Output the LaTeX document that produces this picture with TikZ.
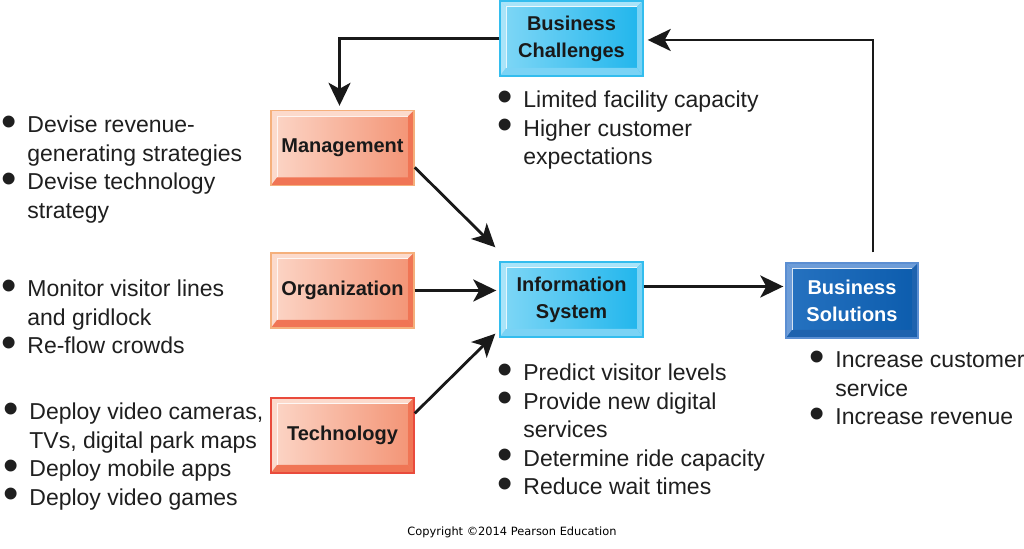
\documentclass[tikz,border=0pt]{standalone}
\usepackage{fontspec}
\setmainfont{Liberation Sans}
\newfontfamily\copyfont{DejaVu Sans}
\usepackage{graphicx}
\usetikzlibrary{arrows.meta,positioning,calc}
\tikzset{
  >=Stealth,
  every node/.append style={font=\fontsize{11.5}{14.25}\selectfont},
}
\tikzset{
  bevelbox/.style n args={5}{draw=#1, line width=0.7pt, left color=#2, right color=#3,
    minimum width=71.5pt, minimum height=37.5pt, inner sep=0pt, align=center,
    font=\fontsize{10}{13.5}\selectfont\bfseries, text=black!90,
    path picture={
      \coordinate (pnw) at (path picture bounding box.north west);
      \coordinate (pne) at (path picture bounding box.north east);
      \coordinate (psw) at (path picture bounding box.south west);
      \coordinate (pse) at (path picture bounding box.south east);
      \fill[#4] (pnw) -- (pne) -- ([shift={(-3pt,-3pt)}]pne) -- ([shift={(3pt,-3pt)}]pnw) -- cycle;
      \fill[#4] (pnw) -- ([shift={(3pt,-3pt)}]pnw) -- ([shift={(3pt,4pt)}]psw) -- (psw) -- cycle;
      \fill[#5] (psw) -- ([shift={(3pt,4pt)}]psw) -- ([shift={(-3pt,4pt)}]pse) -- (pse) -- cycle;
      \fill[#5] (pne) -- (pse) -- ([shift={(-3pt,4pt)}]pse) -- ([shift={(-3pt,-3pt)}]pne) -- cycle;
      \draw[white, line width=0.5pt, opacity=0.8] ([shift={(3pt,4pt)}]psw) -- ([shift={(3pt,-3pt)}]pnw) -- ([shift={(-3pt,-3pt)}]pne);
    }},
  arrow/.style={-{Stealth[length=11.5pt,width=11pt,inset=3pt]}, line width=1.4pt, black!90},
  blist/.style={anchor=base west, inner sep=0pt, align=left, text=black!88},
}
\newcommand{\bi}{\makebox[13pt][l]{\smash{\raisebox{-1.6pt}{\scalebox{1.9}{\textbullet}}}}}

\begin{document}
\begin{tikzpicture}[x=0.5pt, y=-0.5pt]
% Color definitions
\definecolor{orgborder}{HTML}{F5B07C}
\definecolor{orgleft}{HTML}{FCD6C7}
\definecolor{orgright}{HTML}{F39374}
\definecolor{orglight}{HTML}{FCDACC}
\definecolor{orgdark}{HTML}{F07555}
\definecolor{techborder}{HTML}{E94B3C}
\definecolor{skyborder}{HTML}{33BDEE}
\definecolor{skyleft}{HTML}{80D7F6}
\definecolor{skyright}{HTML}{1FB5EC}
\definecolor{skylight}{HTML}{A9E4F9}
\definecolor{skydark}{HTML}{7AD3F5}
\definecolor{solborder}{HTML}{5B8ED2}
\definecolor{solleft}{HTML}{2672C0}
\definecolor{solright}{HTML}{0C5CAD}
\definecolor{sollight}{HTML}{6E9DD8}
\definecolor{soldark}{HTML}{1E62AE}

\useasboundingbox[fill=white] (0,0) rectangle (1024,549);

% Boxes
\node[bevelbox={skyborder}{skyleft}{skyright}{skylight}{skydark}] (bc) at (571.5,38.5) {Business\\Challenges};
\node[bevelbox={orgborder}{orgleft}{orgright}{orglight}{orgdark}] (mgmt) at (342.5,148) {Management};
\node[bevelbox={orgborder}{orgleft}{orgright}{orglight}{orgdark}] (org) at (342.5,290.5) {Organization};
\node[bevelbox={techborder}{orgleft}{orgright}{orglight}{orgdark}] (tech) at (342.5,435.5) {Technology};
\node[bevelbox={skyborder}{skyleft}{skyright}{skylight}{skydark}] (is) at (571.5,299.5) {Information\\System};
\node[bevelbox={solborder}{solleft}{solright}{sollight}{soldark}, minimum width=66pt, text=white] (bs) at (852,300.5) {Business\\Solutions};

% Bullet lists
\node[blist] (mlist) at (1,133) {\begin{tabular}[t]{@{}l@{}l@{}}
\bi & Devise revenue-\\ & generating strategies\\ \bi & Devise technology\\ & strategy\end{tabular}};
\node[blist] (olist) at (1,297) {\begin{tabular}[t]{@{}l@{}l@{}}
\bi & Monitor visitor lines\\ & and gridlock\\ \bi & Re-flow crowds\end{tabular}};
\node[blist] (tlist) at (3,420) {\begin{tabular}[t]{@{}l@{}l@{}}
\bi & Deploy video cameras,\\ & TVs, digital park maps\\ \bi & Deploy mobile apps\\ \bi & Deploy video games\end{tabular}};
\node[blist] (bclist) at (497,108) {\begin{tabular}[t]{@{}l@{}l@{}}
\bi & Limited facility capacity\\ \bi & Higher customer\\ & expectations\end{tabular}};
\node[blist] (islist) at (497,381) {\begin{tabular}[t]{@{}l@{}l@{}}
\bi & Predict visitor levels\\ \bi & Provide new digital\\ & services\\ \bi & Determine ride capacity\\ \bi & Reduce wait times\end{tabular}};
\node[blist] (bslist) at (809,368) {\begin{tabular}[t]{@{}l@{}l@{}}
\bi & Increase customer\\ & service\\ \bi & Increase revenue\end{tabular}};

% Connectors
\draw[arrow] (bc.west) -| ([xshift=-1.5pt,yshift=2pt]mgmt.north);
\draw[arrow] (mgmt.-15) -- ([shift={(-2pt,7pt)}]is.north west);
\draw[arrow] (org.east) -- ([xshift=-1.5pt]org.east -| is.west);
\draw[arrow] (tech.17) -- ([shift={(-2pt,2pt)}]is.south west);
\draw[arrow] ([yshift=6.5pt]is.east) -- ([xshift=-1pt,yshift=6.5pt]is.east -| bs.west);
\draw[arrow] ([xshift=10.5pt,yshift=5pt]bs.north) |- ([xshift=2pt,yshift=-0.75pt]bc.east);

% Footer
\node[font=\copyfont\fontsize{5.7}{7}\selectfont, inner sep=0pt] (copy) at (512,532) {Copyright \textcopyright2014 Pearson Education};
\end{tikzpicture}
\end{document}
